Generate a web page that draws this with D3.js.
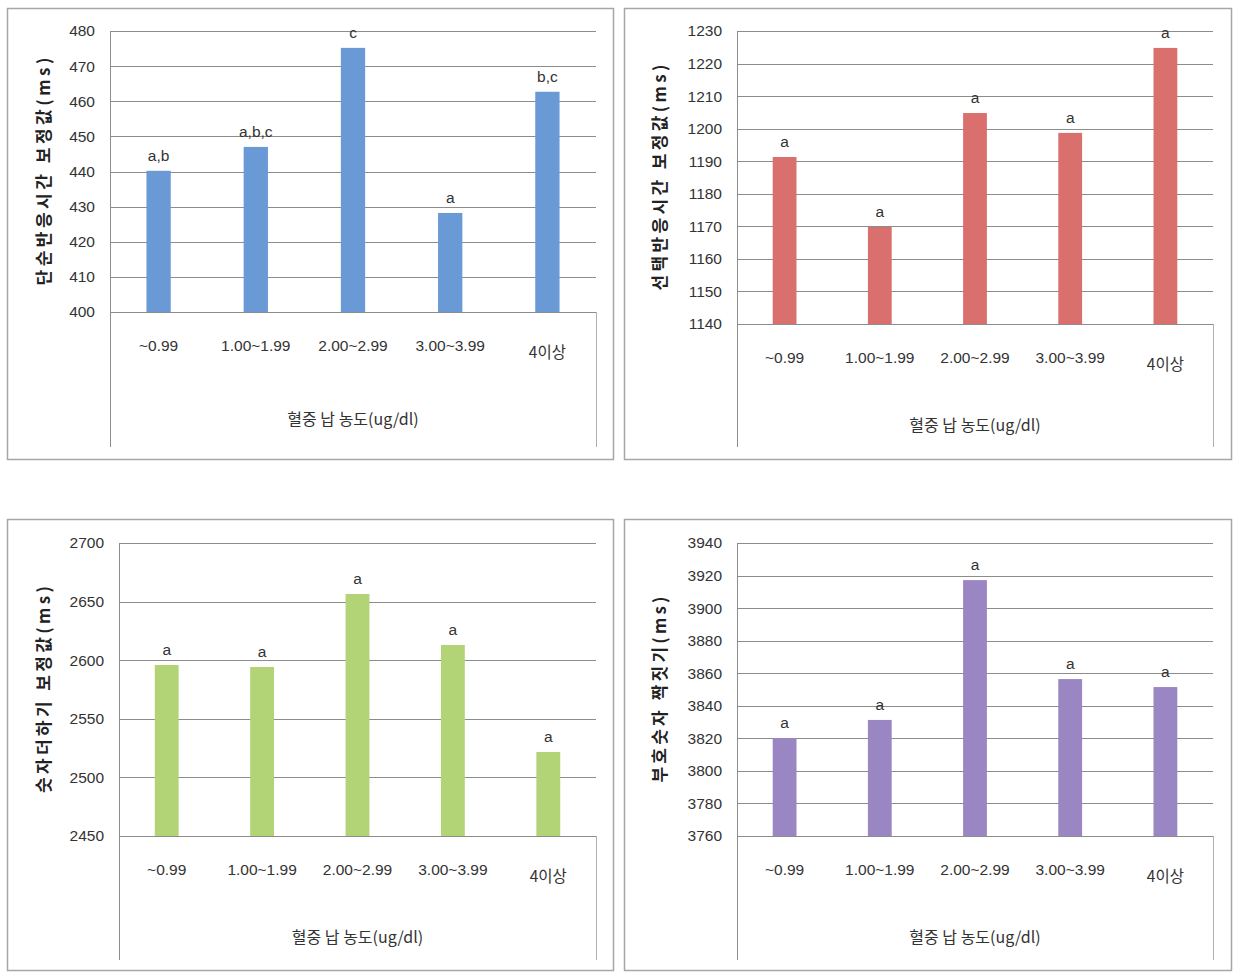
<!DOCTYPE html>
<html><head><meta charset="utf-8">
<script src="https://cdn.jsdelivr.net/npm/d3@7"></script>
<style>body{margin:0;background:#fff}svg{display:block}</style>
</head><body>
<script>
const categories = ["~0.99","1.00~1.99","2.00~2.99","3.00~3.99","4이상"];
const xTitle = "혈중 납 농도(ug/dl)";

const simpleTitle = "단순반응시간 보정값(ms)";
const simpleValues = [440.2, 447.0, 475.2, 428.2, 462.7];
const simpleLetters = ["a,b","a,b,c","c","a","b,c"];
const simpleTicks = [400,410,420,430,440,450,460,470,480];

const choiceTitle = "선택반응시간 보정값(ms)";
const choiceValues = [1191.3, 1169.8, 1204.8, 1198.7, 1224.8];
const choiceLetters = ["a","a","a","a","a"];
const choiceTicks = [1140,1150,1160,1170,1180,1190,1200,1210,1220,1230];

const addTitle = "숫자더하기 보정값(ms)";
const addValues = [2595.9, 2594.2, 2656.5, 2613.0, 2521.7];
const addLetters = ["a","a","a","a","a"];
const addTicks = [2450,2500,2550,2600,2650,2700];

const symTitle = "부호숫자 짝짓기(ms)";
const symValues = [3820.2, 3831.3, 3917.2, 3856.4, 3851.5];
const symLetters = ["a","a","a","a","a"];
const symTicks = [3760,3780,3800,3820,3840,3860,3880,3900,3920,3940];

const W = 1239, H = 980;
const svg = d3.select("body").append("svg").attr("width", W).attr("height", H);

const panels = [
  {title: simpleTitle, values: simpleValues, letters: simpleLetters, ticks: simpleTicks, color: "#6a9ad6",
   frame:[7,8,606,451], left:110, right:596, top:31, bottom:312, ext:447, titleX:44, xTitleY:419, tl:228},
  {title: choiceTitle, values: choiceValues, letters: choiceLetters, ticks: choiceTicks, color: "#d9706e",
   frame:[624,8,607,451], left:737, right:1213, top:31, bottom:324, ext:447, titleX:660, xTitleY:425, tl:226},
  {title: addTitle, values: addValues, letters: addLetters, ticks: addTicks, color: "#b3d377",
   frame:[7,519,606,451], left:119, right:596, top:543, bottom:836, ext:960, titleX:44, xTitleY:937, tl:207},
  {title: symTitle, values: symValues, letters: symLetters, ticks: symTicks, color: "#9a86c2",
   frame:[624,519,607,451], left:737, right:1213, top:543, bottom:836, ext:960, titleX:660, xTitleY:937, tl:186}
];

const FONT = "'Liberation Sans','Noto Sans CJK KR',sans-serif";
const KFONT = "'Noto Sans CJK KR','Liberation Sans',sans-serif";

panels.forEach(p => {
  const g = svg.append("g");
  g.append("rect").attr("x", p.frame[0]+0.5).attr("y", p.frame[1]+0.5)
    .attr("width", p.frame[2]).attr("height", p.frame[3])
    .attr("fill", "#fff").attr("stroke", "#a6a6a6").attr("stroke-width", 1.5);

  const y = d3.scaleLinear().domain(d3.extent(p.ticks)).range([p.bottom, p.top]);
  const x = d3.scaleBand().domain(categories).range([p.left, p.right]).padding(0);

  g.selectAll(".grid").data(p.ticks).join("line")
    .attr("x1", p.left).attr("x2", p.right)
    .attr("y1", d => Math.round(y(d))+0.5).attr("y2", d => Math.round(y(d))+0.5)
    .attr("stroke", "#8c8c8c").attr("stroke-width", 1);

  g.append("line").attr("x1", p.left+0.5).attr("x2", p.left+0.5).attr("y1", p.top).attr("y2", p.ext)
    .attr("stroke", "#8c8c8c");
  g.append("line").attr("x1", p.right+0.5).attr("x2", p.right+0.5).attr("y1", p.bottom).attr("y2", p.ext)
    .attr("stroke", "#b0b0b0");

  const ax = g.append("g").attr("transform", `translate(${p.left},0)`)
    .call(d3.axisLeft(y).tickValues(p.ticks).tickSize(0).tickPadding(15).tickFormat(d3.format("d")));
  ax.select(".domain").remove();
  ax.selectAll("text").attr("font-family", FONT).attr("font-size", 15.5).attr("fill", "#333");

  const bw = x.bandwidth()*0.25;
  g.selectAll(".bar").data(p.values).join("rect")
    .attr("x", (d,i) => x(categories[i]) + x.bandwidth()/2 - bw/2)
    .attr("y", d => y(d)).attr("width", bw).attr("height", d => p.bottom - y(d))
    .attr("fill", p.color);

  g.selectAll(".lab").data(p.values).join("text")
    .attr("x", (d,i) => x(categories[i]) + x.bandwidth()/2)
    .attr("y", d => y(d) - 10)
    .attr("text-anchor", "middle").attr("font-family", FONT).attr("font-size", 15.5).attr("fill", "#333")
    .text((d,i) => p.letters[i]);

  g.selectAll(".xl").data(categories).join("text")
    .attr("x", d => x(d) + x.bandwidth()/2)
    .attr("y", (d,i) => p.bottom + (i===4 ? 46 : 39))
    .attr("text-anchor", "middle")
    .attr("font-family", (d,i) => i===4 ? KFONT : FONT)
    .attr("font-size", 15.5).attr("fill", "#333")
    .text(d => d);

  g.append("text").attr("x", (p.left+p.right)/2).attr("y", p.xTitleY + 6)
    .attr("text-anchor", "middle").attr("font-family", KFONT).attr("font-size", 16).attr("fill", "#333")
    .text(xTitle);

  const cy = (p.top + p.bottom)/2;
  g.append("text").attr("transform", `translate(${p.titleX},${cy}) rotate(-90)`)
    .attr("text-anchor", "middle").attr("dy", "0.35em")
    .attr("font-family", KFONT).attr("font-size", 17).attr("font-weight", "bold").attr("fill", "#222")
    .attr("textLength", p.tl).attr("lengthAdjust", "spacing")
    .text(p.title);
});
</script>
</body></html>
